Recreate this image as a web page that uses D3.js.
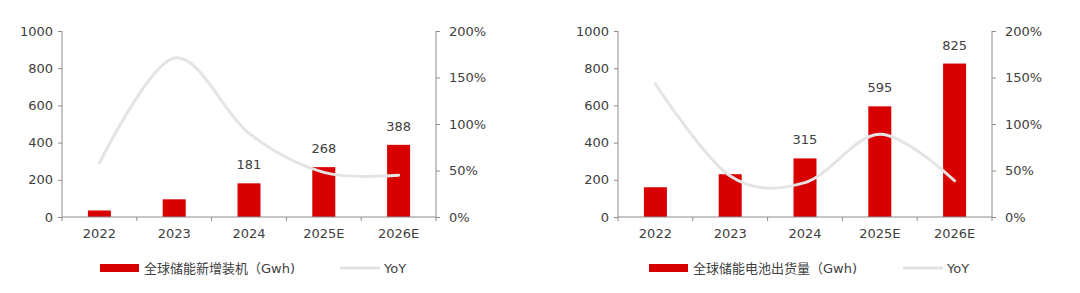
<!DOCTYPE html>
<html>
<head>
<meta charset="utf-8">
<script src="https://cdn.jsdelivr.net/npm/d3@7"></script>
<style>
  body { margin: 0; background: #fff; }
  svg { display: block; }
  text { font-family: 'DejaVu Sans', 'Noto Sans CJK SC', sans-serif; fill: #404040; }
</style>
</head>
<body>
<div id="chart-container"></div>
<script>
const years = ['2022', '2023', '2024', '2025E', '2026E']

// left: global new storage installations
const installGwh = [35, 95, 181, 268, 388]
const installYoY = [58, 171, 90, 48, 45]
const installLabel = '全球储能新增装机（Gwh)'

// right: global storage battery shipments
const shipGwh = [160, 230, 315, 595, 825]
const shipYoY = [143, 44, 37, 89, 39]
const shipLabel = '全球储能电池出货量（Gwh)'

// which bars carry a value label
const labeledYears = ['2024', '2025E', '2026E']

const leftTicks = [0, 200, 400, 600, 800, 1000]
const rightTicks = [0, 50, 100, 150, 200]

const barColor = '#d90000'
const lineColor = '#e4e4e4'
const axisColor = '#8c8c8c'

const svg = d3
  .select('#chart-container')
  .append('svg')
  .attr('width', 1080)
  .attr('height', 293)

function drawChart(offsetX, bars, yoy, legendText, legendPos) {
  const g = svg.append('g').attr('transform', `translate(${offsetX},0)`)

  const x = d3.scaleBand().domain(years).range([62, 436]).paddingInner(0).paddingOuter(0)
  const yLeft = d3.scaleLinear().domain([0, 1000]).range([217, 31])
  const yRight = d3.scaleLinear().domain([0, 200]).range([217, 31])

  const barW = 23

  // bars
  g.append('g')
    .selectAll('rect')
    .data(bars)
    .join('rect')
    .attr('x', (d, i) => x(years[i]) + x.bandwidth() / 2 - barW / 2)
    .attr('y', d => yLeft(d))
    .attr('width', barW)
    .attr('height', d => yLeft(0) - yLeft(d))
    .attr('fill', barColor)

  // value labels
  g.append('g')
    .selectAll('text')
    .data(bars.map((v, i) => ({ v, year: years[i] })).filter(d => labeledYears.includes(d.year)))
    .join('text')
    .attr('x', d => x(d.year) + x.bandwidth() / 2)
    .attr('y', d => yLeft(d.v) - 14)
    .attr('text-anchor', 'middle')
    .style('font-size', '13px')
    .text(d => d.v)

  // YoY smooth line
  const line = d3
    .line()
    .x((d, i) => x(years[i]) + x.bandwidth() / 2)
    .y(d => yRight(d))
    .curve(d3.curveCardinal.tension(0))

  g.append('path')
    .datum(yoy)
    .attr('d', line)
    .attr('fill', 'none')
    .attr('stroke', lineColor)
    .attr('stroke-width', 3)
    .attr('stroke-linecap', 'round')

  // left axis
  const leftAxis = g.append('g')
    .attr('transform', 'translate(62,0)')
    .call(d3.axisLeft(yLeft).tickValues(leftTicks).tickSize(4).tickPadding(5).tickFormat(d3.format('d')))
  leftAxis.select('.domain').attr('d', `M0,${yLeft(1000)}V${yLeft(0)}`)

  // right axis
  const rightAxis = g.append('g')
    .attr('transform', 'translate(436,0)')
    .call(d3.axisRight(yRight).tickValues(rightTicks).tickSize(4).tickPadding(9).tickFormat(d => d + '%'))
  rightAxis.select('.domain').attr('d', `M0,${yRight(200)}V${yRight(0)}`)

  // bottom axis with tick marks between categories
  const bottom = g.append('g').attr('transform', 'translate(0,217)')
  bottom.append('line')
    .attr('x1', 62).attr('x2', 436)
    .attr('stroke', axisColor)
  bottom.selectAll('line.tk')
    .data(years.concat(['end']))
    .join('line')
    .attr('class', 'tk')
    .attr('x1', (d, i) => 62 + i * x.bandwidth())
    .attr('x2', (d, i) => 62 + i * x.bandwidth())
    .attr('y1', 0).attr('y2', 4)
    .attr('stroke', axisColor)
  bottom.selectAll('text')
    .data(years)
    .join('text')
    .attr('x', d => x(d) + x.bandwidth() / 2)
    .attr('y', 21)
    .attr('text-anchor', 'middle')
    .style('font-size', '13px')
    .text(d => d)

  g.selectAll('.tick line, .domain').attr('stroke', axisColor)
  g.selectAll('.tick text').style('font-size', '13px').attr('fill', '#404040')
  g.selectAll('.tick text').style('font-family', "'DejaVu Sans', sans-serif")

  // legend
  const lg = g.append('g').attr('transform', 'translate(0,268)')
  lg.append('rect')
    .attr('x', legendPos[0]).attr('y', -4)
    .attr('width', 39).attr('height', 8)
    .attr('fill', barColor)
  lg.append('text')
    .attr('x', legendPos[0] + 44).attr('y', 5)
    .style('font-size', '13px')
    .text(legendText)
  lg.append('line')
    .attr('x1', legendPos[1]).attr('x2', legendPos[1] + 40)
    .attr('stroke', lineColor).attr('stroke-width', 3)
  lg.append('text')
    .attr('x', legendPos[1] + 44).attr('y', 5)
    .style('font-size', '13px')
    .text('YoY')
}

drawChart(0, installGwh, installYoY, installLabel, [100, 340])
drawChart(556, shipGwh, shipYoY, shipLabel, [93, 347])
</script>
</body>
</html>
